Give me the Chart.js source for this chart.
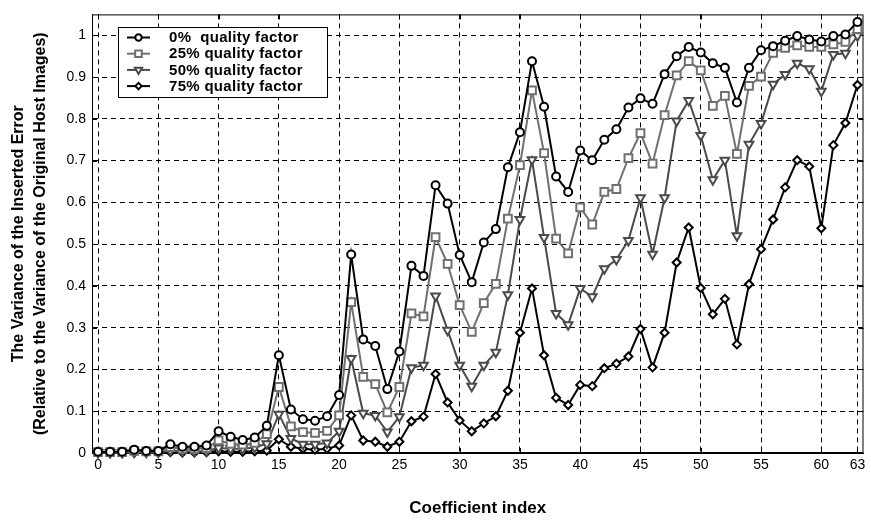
<!DOCTYPE html>
<html>
<head>
<meta charset="utf-8">
<script src="https://cdn.jsdelivr.net/npm/chart.js@4/dist/chart.umd.min.js"></script>
<style>
  html, body { margin: 0; padding: 0; background: #fff; }
</style>
</head>
<body>
<canvas id="myChart" width="871" height="523"></canvas>
<script>
// coefficient index 0..63
const coefIndex = [0,1,2,3,4,5,6,7,8,9,10,11,12,13,14,15,16,17,18,19,20,21,22,23,24,25,26,27,28,29,30,31,
  32,33,34,35,36,37,38,39,40,41,42,43,44,45,46,47,48,49,50,51,52,53,54,55,56,57,58,59,60,61,62,63];

const q0 = [0.003,0.003,0.003,0.008,0.005,0.005,0.021,0.015,0.015,0.018,0.052,0.039,0.031,0.037,0.065,0.234,
  0.104,0.081,0.077,0.088,0.139,0.475,0.272,0.256,0.153,0.243,0.448,0.424,0.641,0.597,0.474,0.409,
  0.504,0.536,0.684,0.768,0.938,0.829,0.662,0.625,0.724,0.701,0.750,0.775,0.827,0.849,0.836,0.907,
  0.950,0.972,0.959,0.933,0.922,0.839,0.922,0.964,0.974,0.987,0.998,0.990,0.985,0.998,1.002,1.032];
const q25 = [0.002,0.002,0.002,0.005,0.004,0.004,0.014,0.010,0.010,0.012,0.030,0.022,0.020,0.024,0.045,0.158,
  0.064,0.050,0.048,0.053,0.090,0.361,0.182,0.165,0.097,0.158,0.334,0.327,0.517,0.453,0.354,0.290,
  0.359,0.405,0.561,0.689,0.868,0.718,0.513,0.478,0.588,0.547,0.625,0.632,0.706,0.766,0.693,0.809,
  0.904,0.938,0.916,0.831,0.855,0.716,0.879,0.901,0.958,0.970,0.976,0.972,0.972,0.978,0.984,1.015];
const q50 = [0.001,0.001,0.001,0.002,0.002,0.002,0.006,0.004,0.004,0.005,0.012,0.010,0.010,0.013,0.022,0.093,
  0.035,0.021,0.021,0.024,0.052,0.226,0.095,0.090,0.050,0.087,0.204,0.210,0.376,0.294,0.210,0.160,
  0.210,0.241,0.379,0.559,0.702,0.516,0.334,0.307,0.394,0.374,0.441,0.463,0.509,0.611,0.476,0.611,
  0.795,0.844,0.760,0.654,0.701,0.520,0.739,0.789,0.883,0.906,0.933,0.920,0.866,0.954,0.957,0.999];
const q75 = [0.000,0.000,0.000,0.001,0.001,0.001,0.002,0.001,0.001,0.002,0.004,0.003,0.003,0.004,0.006,0.033,
  0.015,0.010,0.008,0.010,0.018,0.090,0.030,0.027,0.015,0.027,0.076,0.087,0.189,0.121,0.078,0.052,
  0.071,0.088,0.149,0.288,0.394,0.234,0.132,0.115,0.163,0.160,0.203,0.214,0.231,0.297,0.205,0.288,
  0.456,0.540,0.395,0.332,0.369,0.260,0.404,0.488,0.559,0.636,0.701,0.686,0.538,0.737,0.790,0.881];

const seriesNames = ['0%  quality factor', '25% quality factor', '50% quality factor', '75% quality factor'];
const xTicks = [0,5,10,15,20,25,30,35,40,45,50,55,60,63];
const yTicks = [0,0.1,0.2,0.3,0.4,0.5,0.6,0.7,0.8,0.9,1];

const FONT = 'Liberation Sans, Arial, sans-serif';

const styles = [
  { color: '#000000', point: 'circle',   radius: 4,   rotation: 0 },
  { color: '#707070', point: 'rect',     radius: 5.5, rotation: 0 },
  { color: '#4a4a4a', point: 'triangle', radius: 5,   rotation: 180 },
  { color: '#000000', point: 'rectRot',  radius: 4,   rotation: 0 }
];

const toPoints = vals => vals.map((v, i) => ({ x: coefIndex[i], y: v }));

const datasets = [q0, q25, q50, q75].map((vals, k) => ({
  label: seriesNames[k],
  data: toPoints(vals),
  borderColor: styles[k].color,
  borderWidth: 2,
  pointStyle: styles[k].point,
  pointRadius: styles[k].radius,
  pointRotation: styles[k].rotation,
  pointBackgroundColor: '#fff',
  pointBorderColor: styles[k].color,
  pointBorderWidth: 2,
  tension: 0,
  clip: false,
  order: k
}));

// box around the axes with small inward ticks
const framePlugin = {
  id: 'frame',
  beforeDatasetsDraw(chart) {
    const { ctx, chartArea: a, scales } = chart;
    ctx.save();
    ctx.strokeStyle = '#000';
    ctx.lineWidth = 1;
    ctx.strokeRect(a.left + 0.5, a.top + 0.5, a.right - a.left - 1, a.bottom - a.top - 1);
    ctx.beginPath();
    yTicks.forEach(v => {
      const y = Math.round(scales.y.getPixelForValue(v)) + 0.5;
      ctx.moveTo(a.left, y); ctx.lineTo(a.left + 5, y);
      ctx.moveTo(a.right, y); ctx.lineTo(a.right - 5, y);
    });
    xTicks.forEach(v => {
      const x = Math.round(scales.x.getPixelForValue(v)) + 0.5;
      ctx.moveTo(x, a.bottom); ctx.lineTo(x, a.bottom - 5);
      ctx.moveTo(x, a.top); ctx.lineTo(x, a.top + 5);
    });
    ctx.stroke();
    ctx.restore();
  }
};

// legend box inside the plot, top left
const legendBox = {
  id: 'legendBox',
  afterDatasetsDraw(chart) {
    const { ctx } = chart;
    const bx = 118, by = 27, bw = 209, bh = 70;
    ctx.save();
    ctx.fillStyle = '#fff';
    ctx.fillRect(bx, by, bw, bh);
    ctx.strokeStyle = '#000';
    ctx.lineWidth = 1;
    ctx.strokeRect(bx + 0.5, by + 0.5, bw, bh);
    ctx.font = 'bold 15px ' + FONT;
    ctx.letterSpacing = '0.3px';
    ctx.textBaseline = 'middle';
    chart.data.datasets.forEach((ds, k) => {
      const y = by + 10.5 + k * 16.2;
      ctx.strokeStyle = ds.borderColor;
      ctx.lineWidth = 2;
      ctx.beginPath();
      ctx.moveTo(127, y); ctx.lineTo(150, y);
      ctx.stroke();
      ctx.fillStyle = '#fff';
      ctx.strokeStyle = ds.borderColor;
      Chart.helpers.drawPoint(ctx, {
        pointStyle: ds.pointStyle,
        radius: ds.pointRadius - 0.8,
        rotation: ds.pointRotation,
        borderWidth: 2
      }, 138.5, y);
      ctx.fillStyle = '#000';
      ctx.fillText(ds.label, 169, y + 0.5);
    });
    ctx.restore();
  }
};

new Chart('myChart', {
  type: 'line',
  data: { datasets: datasets },
  plugins: [framePlugin, legendBox],
  options: {
    responsive: false,
    animation: false,
    layout: { padding: { top: 10, right: 3, left: 0, bottom: 0 } },
    elements: { point: { hoverRadius: 4 } },
    plugins: {
      legend: { display: false },
      tooltip: { enabled: false }
    },
    scales: {
      x: {
        type: 'linear',
        min: -0.5,
        max: 63.5,
        afterBuildTicks: s => { s.ticks = xTicks.map(v => ({ value: v })); },
        afterFit: s => { s.height = 70; },
        ticks: {
          color: '#000',
          font: { family: FONT, size: 14 },
          padding: 4,
          maxRotation: 0,
          autoSkip: false
        },
        grid: { color: '#000', lineWidth: 1, drawTicks: false },
        border: { display: true, color: '#000', width: 1, dash: [5, 4] },
        title: {
          display: true,
          text: 'Coefficient index',
          color: '#000',
          font: { family: FONT, size: 17, weight: 'bold' },
          padding: { top: 4, bottom: 4 }
        }
      },
      y: {
        min: 0,
        max: 1.05,
        afterBuildTicks: s => { s.ticks = yTicks.map(v => ({ value: v })); },
        afterFit: s => { s.width = 92; },
        ticks: {
          color: '#000',
          font: { family: FONT, size: 14 },
          padding: 6,
          callback: v => String(v)
        },
        grid: { color: '#000', lineWidth: 1, drawTicks: false },
        border: { display: true, color: '#000', width: 1, dash: [5, 4] },
        title: {
          display: true,
          text: ['The Variance of the Inserted Error', '(Relative to the Variance of the Original Host Images)'],
          color: '#000',
          font: { family: FONT, size: 16, weight: 'bold', lineHeight: 1.4 },
          padding: { top: 7, bottom: 0 }
        }
      }
    }
  }
});
</script>
</body>
</html>
